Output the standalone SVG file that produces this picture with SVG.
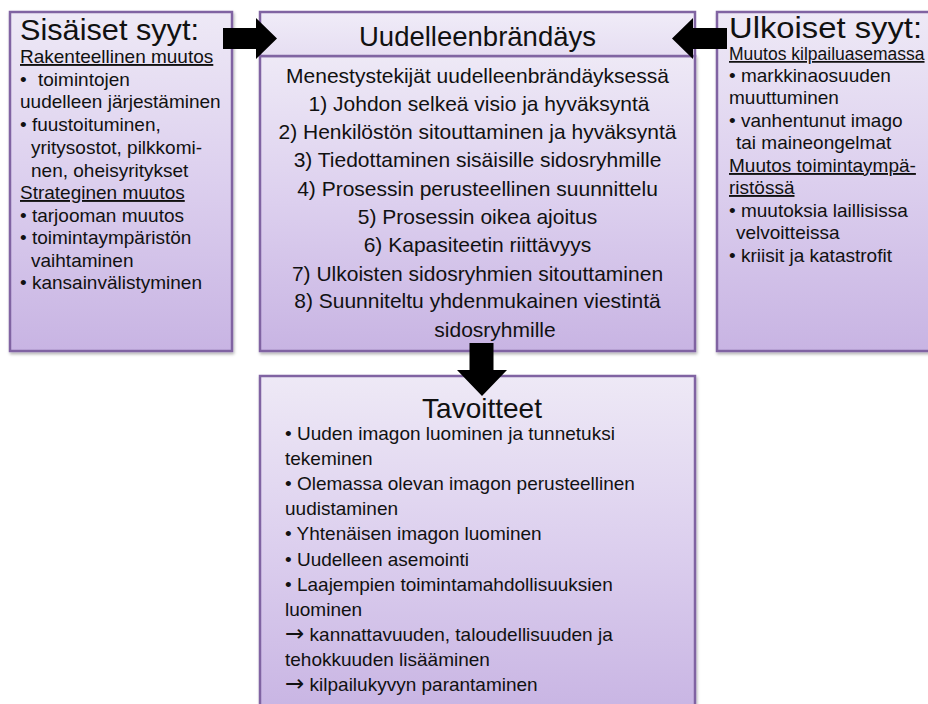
<svg xmlns="http://www.w3.org/2000/svg" width="928" height="704" viewBox="0 0 928 704">
  <defs>
    <linearGradient id="boxFill" x1="0" y1="0" x2="0" y2="1">
      <stop offset="0" stop-color="#eee9f6"/>
      <stop offset="0.5" stop-color="#dccfee"/>
      <stop offset="1" stop-color="#c8b4e3"/>
    </linearGradient>
    <linearGradient id="headFill" x1="0" y1="0" x2="0" y2="1">
      <stop offset="0" stop-color="#f0ecf8"/>
      <stop offset="1" stop-color="#e6def2"/>
    </linearGradient>
    <filter id="shadow" x="-5%" y="-5%" width="110%" height="110%">
      <feDropShadow dx="1" dy="2" stdDeviation="1.5" flood-color="#000" flood-opacity="0.3"/>
    </filter>
  </defs>
  <style>
    .box { fill: url(#boxFill); stroke: #8064a2; stroke-width: 2.5; filter: url(#shadow); }
    .head { fill: url(#headFill); stroke: #8064a2; stroke-width: 2.5; }
    text { font-family: "Liberation Sans", Arial, sans-serif; fill: #111; }
    .title { font-size: 29px; }
    .side { font-size: 19px; }
    .mid { font-size: 21px; text-anchor: middle; }
    .goal { font-size: 19px; }
    .u { text-decoration: underline; }
    .sym { font-family: "DejaVu Sans", sans-serif; font-size: 23px; }
    .arrow { fill: #000; }
  </style>

  <rect width="928" height="704" fill="#fff"/>

  <!-- internal causes -->
  <g id="sisaiset">
    <rect class="box" x="10" y="12" width="222" height="339"/>
    <text class="title" x="20" y="40" textLength="179" lengthAdjust="spacingAndGlyphs">Sisäiset syyt:</text>
    <text class="side u" x="20" y="63">Rakenteellinen muutos</text>
    <text class="side" x="20" y="86">•</text>
    <text class="side" x="38" y="86">toimintojen</text>
    <text class="side" x="20" y="108">uudelleen järjestäminen</text>
    <text class="side" x="20" y="131">• fuustoituminen,</text>
    <text class="side" x="31" y="154">yritysostot, pilkkomi-</text>
    <text class="side" x="31" y="177">nen, oheisyritykset</text>
    <text class="side u" x="20" y="199">Strateginen muutos</text>
    <text class="side" x="20" y="222">• tarjooman muutos</text>
    <text class="side" x="20" y="244">• toimintaympäristön</text>
    <text class="side" x="31" y="267">vaihtaminen</text>
    <text class="side" x="20" y="289">• kansainvälistyminen</text>
  </g>

  <!-- rebranding with success factors -->
  <g id="uudelleenbrandays">
    <rect class="box" x="260" y="56" width="435" height="295"/>
    <rect class="head" x="260" y="12" width="435" height="44"/>
    <text class="title" x="477.5" y="46" text-anchor="middle" style="font-size:27.5px">Uudelleenbrändäys</text>
    <text class="mid" x="477.5" y="83">Menestystekijät uudelleenbrändäyksessä</text>
    <text class="mid" x="479" y="111">1) Johdon selkeä visio ja hyväksyntä</text>
    <text class="mid" x="477.5" y="139">2) Henkilöstön sitouttaminen ja hyväksyntä</text>
    <text class="mid" x="477.5" y="167">3) Tiedottaminen sisäisille sidosryhmille</text>
    <text class="mid" x="477.5" y="196">4) Prosessin perusteellinen suunnittelu</text>
    <text class="mid" x="477.5" y="224">5) Prosessin oikea ajoitus</text>
    <text class="mid" x="477.5" y="252">6) Kapasiteetin riittävyys</text>
    <text class="mid" x="477.5" y="281">7) Ulkoisten sidosryhmien sitouttaminen</text>
    <text class="mid" x="477.5" y="308">8) Suunniteltu yhdenmukainen viestintä</text>
    <text class="mid" x="495" y="337">sidosryhmille</text>
  </g>

  <!-- external causes -->
  <g id="ulkoiset">
    <rect class="box" x="717" y="12" width="240" height="339"/>
    <text class="title" x="729" y="38" textLength="193" lengthAdjust="spacingAndGlyphs">Ulkoiset syyt:</text>
    <text class="side u" x="729" y="60" style="font-size:17.5px">Muutos kilpailuasemassa</text>
    <text class="side" x="729" y="82">• markkinaosuuden</text>
    <text class="side" x="729" y="104">muuttuminen</text>
    <text class="side" x="729" y="127">• vanhentunut imago</text>
    <text class="side" x="736" y="149">tai maineongelmat</text>
    <text class="side u" x="729" y="172">Muutos toimintaympä-</text>
    <text class="side u" x="729" y="194">ristössä</text>
    <text class="side" x="729" y="217">• muutoksia laillisissa</text>
    <text class="side" x="736" y="239">velvoitteissa</text>
    <text class="side" x="729" y="262">• kriisit ja katastrofit</text>
  </g>

  <!-- goals -->
  <g id="tavoitteet">
    <rect class="box" x="260" y="376" width="435" height="340"/>
    <text class="title" x="482" y="418" text-anchor="middle" style="font-size:28px">Tavoitteet</text>
    <text class="goal" x="285" y="440">• Uuden imagon luominen ja tunnetuksi</text>
    <text class="goal" x="285" y="465">tekeminen</text>
    <text class="goal" x="285" y="490">• Olemassa olevan imagon perusteellinen</text>
    <text class="goal" x="285" y="515">uudistaminen</text>
    <text class="goal" x="285" y="540">• Yhtenäisen imagon luominen</text>
    <text class="goal" x="285" y="566">• Uudelleen asemointi</text>
    <text class="goal" x="285" y="591">• Laajempien toimintamahdollisuuksien</text>
    <text class="goal" x="285" y="616">luominen</text>
    <text class="goal" x="285" y="641"><tspan class="sym">→</tspan> kannattavuuden, taloudellisuuden ja</text>
    <text class="goal" x="285" y="666">tehokkuuden lisääminen</text>
    <text class="goal" x="285" y="691"><tspan class="sym">→</tspan> kilpailukyvyn parantaminen</text>
  </g>

  <!-- block arrows -->
  <g id="connectors">
    <polygon class="arrow" points="223,28 256,28 256,18 277,38.5 256,59 256,49 223,49"/>
    <polygon class="arrow" points="727,28 693,28 693,18 672,38.5 693,59 693,49 727,49"/>
    <polygon class="arrow" points="469.5,343 493.5,343 493.5,370 507,370 482,396 457,370 469.5,370"/>
  </g>
</svg>
